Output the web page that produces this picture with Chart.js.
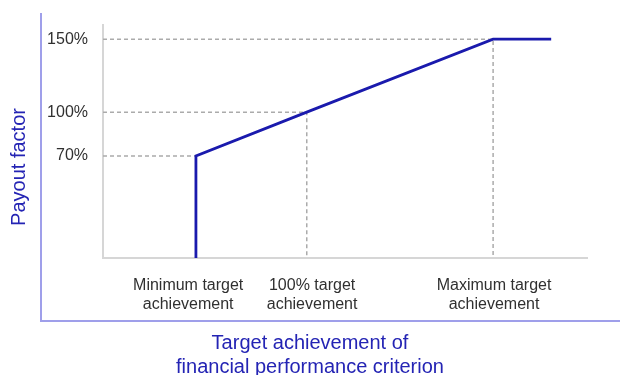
<!DOCTYPE html>
<html>
<head>
<meta charset="utf-8">
<script src="https://cdn.jsdelivr.net/npm/chart.js@4"></script>
<style>
  html, body { margin: 0; padding: 0; background: #fff; }
  #wrap { width: 620px; height: 375px; position: relative; }
</style>
</head>
<body>
<div id="wrap"><canvas id="c" width="620" height="375"></canvas></div>
<script>
// ---- data ----
const achievementX = [19.2, 19.2, 42.1, 80.6, 92.6];   // target achievement (position along x)
const payoutFactor = [0, 70, 100, 150, 150];            // payout factor in %
const milestoneX = [19.2, 42.1, 80.6];                   // min, 100%, max target achievement
const milestoneY = [70, 100, 150];                       // payout at those milestones
const milestoneHasVertical = [false, true, true];
const yTickValues = [70, 100, 150];
const xTickPositions = [17.6, 43.2, 80.8];
const xTickLabels = [
  ['Minimum target', 'achievement'],
  ['100% target', 'achievement'],
  ['Maximum target', 'achievement']
];
const yTitle = 'Payout factor';
const xTitle = ['Target achievement of', 'financial performance criterion'];

const X_MIN = 0, X_MAX = 100, Y_MIN = 0, Y_MAX = 160;

const FONT = '"Liberation Sans", Arial, sans-serif';
const BLUE = '#1a1aad';
const TITLE_BLUE = '#2424b4';

const mainData = achievementX.map((x, i) => ({ x, y: payoutFactor[i] }));

const guideSets = milestoneX.map((x, i) => {
  const pts = [{ x: X_MIN, y: milestoneY[i] }, { x, y: milestoneY[i] }];
  if (milestoneHasVertical[i]) pts.push({ x, y: Y_MIN });
  return {
    data: pts,
    showLine: true,
    borderColor: '#ababab',
    borderWidth: 1.5,
    borderDash: [4, 3],
    pointRadius: 0,
    order: 2,
    tension: 0
  };
});

const framePlugin = {
  id: 'frame',
  afterDraw(chart) {
    const ctx = chart.ctx;
    const a = chart.chartArea;
    ctx.save();
    // outer blue frame
    ctx.strokeStyle = '#9f9fea';
    ctx.lineWidth = 2;
    ctx.beginPath();
    ctx.moveTo(a.left - 62, 13);
    ctx.lineTo(a.left - 62, a.bottom + 63);
    ctx.lineTo(chart.width, a.bottom + 63);
    ctx.stroke();
    // y title
    ctx.fillStyle = TITLE_BLUE;
    ctx.font = '20px ' + FONT;
    ctx.textAlign = 'center';
    ctx.textBaseline = 'middle';
    ctx.save();
    ctx.translate(19, 167);
    ctx.rotate(-Math.PI / 2);
    ctx.fillText(yTitle, 0, 0);
    ctx.restore();
    // x title
    xTitle.forEach((t, i) => ctx.fillText(t, chart.width / 2, 343 + i * 24));
    ctx.restore();
  }
};

new Chart(document.getElementById('c'), {
  type: 'scatter',
  data: {
    datasets: [
      {
        data: mainData,
        showLine: true,
        borderColor: BLUE,
        borderWidth: 2.8,
        pointRadius: 0,
        order: 1,
        tension: 0
      },
      ...guideSets
    ]
  },
  options: {
    responsive: false,
    animation: false,
    layout: { padding: { top: 22, right: 33, bottom: 0, left: 0 } },
    plugins: { legend: { display: false }, tooltip: { enabled: false } },
    scales: {
      x: {
        type: 'linear',
        min: X_MIN, max: X_MAX,
        grid: { display: false, drawTicks: false },
        border: { display: true, color: '#d6d6d6', width: 2 },
        afterBuildTicks: s => { s.ticks = xTickPositions.map(v => ({ value: v })); },
        afterFit: s => { s.height = 117; },
        ticks: {
          autoSkip: false,
          maxRotation: 0,
          padding: 18,
          color: '#303030',
          font: { family: FONT, size: 16, lineHeight: 1.2 },
          callback: (v, i) => xTickLabels[i]
        }
      },
      y: {
        type: 'linear',
        min: Y_MIN, max: Y_MAX,
        grid: { display: false, drawTicks: false },
        border: { display: true, color: '#d6d6d6', width: 2 },
        afterBuildTicks: s => { s.ticks = yTickValues.map(v => ({ value: v })); },
        afterFit: s => { s.width = 103; },
        ticks: {
          autoSkip: false,
          padding: 15,
          color: '#303030',
          font: { family: FONT, size: 16 },
          callback: v => v + '%'
        }
      }
    }
  },
  plugins: [framePlugin]
});
</script>
</body>
</html>
